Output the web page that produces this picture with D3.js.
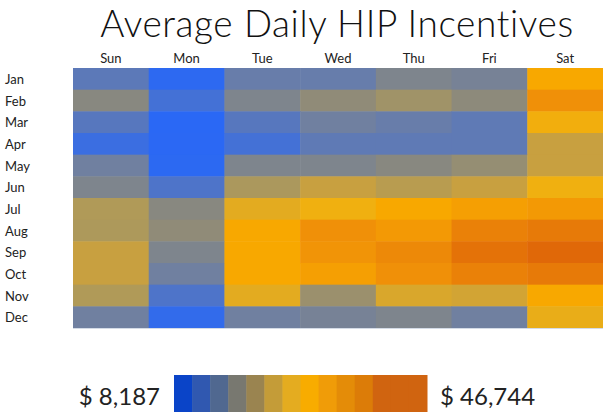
<!DOCTYPE html>
<html>
<head>
<meta charset="utf-8">
<title>Average Daily HIP Incentives</title>
<style type="text/css">
    body { margin: 0; background: #fff; }
    svg text { font-family: Lato, "Open Sans", sans-serif; fill: #222; }
</style>
</head>
<body>
<script src="https://d3js.org/d3.v7.min.js"></script>
<script>

    // chart data
    var days = ["Sun", "Mon", "Tue", "Wed", "Thu", "Fri", "Sat"];
    var months = ["Jan", "Feb", "Mar", "Apr", "May", "Jun", "Jul", "Aug", "Sep", "Oct", "Nov", "Dec"];

    // average daily incentive ($), one row per month, Sun..Sat
    var incentives = [
        [15100,  8600, 16700, 16600, 20100, 19000, 36300],
        [21700, 11700, 20100, 22800, 25200, 22400, 40600],
        [14400,  8187, 14400, 17800, 16700, 15500, 34800],
        [10500,  8300, 11700, 15500, 15500, 15500, 29800],
        [17800,  8500, 20100, 20100, 21700, 23600, 29800],
        [20100, 13200, 26700, 29800, 28200, 29800, 34400],
        [27500, 21700, 32900, 34400, 36300, 37900, 39000],
        [27000, 22800, 36300, 40600, 39000, 42900, 44000],
        [29800, 20100, 36300, 39800, 41700, 45200, 46744],
        [29800, 17800, 36300, 37900, 40600, 42900, 44000],
        [27500, 13200, 32900, 24400, 31700, 30900, 36300],
        [17800,  9300, 17800, 19000, 20100, 17800, 33600]
    ];

    // colour ramp (position 0..1 along the value range -> colour)
    var rampStops = [0, 0.25, 0.35, 0.5, 0.56, 0.68, 0.73, 0.84, 1];
    var rampColors = ["#2a68f5", "#7080a0", "#888880", "#b09a58", "#c8a040", "#f0b010", "#f8a800", "#f09008", "#e06808"];
    // stepped legend swatches
    var legendColors = ["#0a44c8", "#3058b0", "#506890", "#787870", "#9a8450", "#c49c38",
                        "#e4ac20", "#f8ac00", "#f09c08", "#e48c08", "#dc7c08", "#d06410"];

    var width = 603, height = 413;

    var svg = d3.select("body").append("svg")
        .attr("width", width)
        .attr("height", height);

    var cells = [];
    incentives.forEach(function(row, i) {
        row.forEach(function(v, j) {
            cells.push({month: months[i], day: days[j], value: v});
        });
    });

    var minV = d3.min(cells, function(d) { return d.value; });
    var maxV = d3.max(cells, function(d) { return d.value; });

    var t = d3.scaleLinear().domain([minV, maxV]);
    var color = d3.scaleLinear()
        .domain(rampStops.map(function(s) { return t.invert(s); }))
        .range(rampColors)
        .interpolate(d3.interpolateRgb);

    var x = d3.scaleBand().domain(days).range([73, 603]);
    var y = d3.scaleBand().domain(months).range([68, 328]);

    // title
    svg.append("text")
        .attr("x", 337)
        .attr("y", 37)
        .attr("text-anchor", "middle")
        .style("font-size", "37px")
        .style("font-weight", 300)
        .style("letter-spacing", "0.6px")
        .style("fill", "#111")
        .text("Average Daily HIP Incentives");

    // heatmap
    svg.selectAll(".cell")
        .data(cells)
        .enter().append("rect")
        .attr("class", "cell")
        .attr("x", function(d) { return x(d.day); })
        .attr("y", function(d) { return y(d.month); })
        .attr("width", x.bandwidth() + 0.5)
        .attr("height", y.bandwidth() + 0.5)
        .style("fill", function(d) { return color(d.value); });

    svg.append("line")
        .attr("x1", 73).attr("x2", 603)
        .attr("y1", 328.5).attr("y2", 328.5)
        .style("stroke", "#d4dbe6");

    // day headers
    svg.selectAll(".day")
        .data(days)
        .enter().append("text")
        .attr("class", "day")
        .attr("x", function(d) { return x(d) + x.bandwidth() / 2; })
        .attr("y", 63)
        .attr("text-anchor", "middle")
        .style("font-size", "13px")
        .text(function(d) { return d; });

    // month labels
    svg.selectAll(".month")
        .data(months)
        .enter().append("text")
        .attr("class", "month")
        .attr("x", 5)
        .attr("y", function(d) { return y(d) + y.bandwidth() / 2 + 5; })
        .style("font-size", "13px")
        .text(function(d) { return d; });

    // legend: 12 steps, last one three times wider
    var lx = d3.scaleBand().domain(d3.range(14)).range([174, 427]);
    svg.selectAll(".swatch")
        .data(d3.range(14))
        .enter().append("rect")
        .attr("class", "swatch")
        .attr("x", function(d) { return lx(d); })
        .attr("y", 375)
        .attr("width", lx.bandwidth() + 0.5)
        .attr("height", 37)
        .style("fill", function(d) { return legendColors[Math.min(d, legendColors.length - 1)]; });

    var money = function(v) { return "$ " + d3.format(",")(v); };

    svg.append("text")
        .attr("x", 160)
        .attr("y", 405)
        .attr("text-anchor", "end")
        .style("font-size", "24px")
        .text(money(minV));

    svg.append("text")
        .attr("x", 440)
        .attr("y", 405)
        .style("font-size", "24px")
        .text(money(maxV));

</script>
</body>
</html>
